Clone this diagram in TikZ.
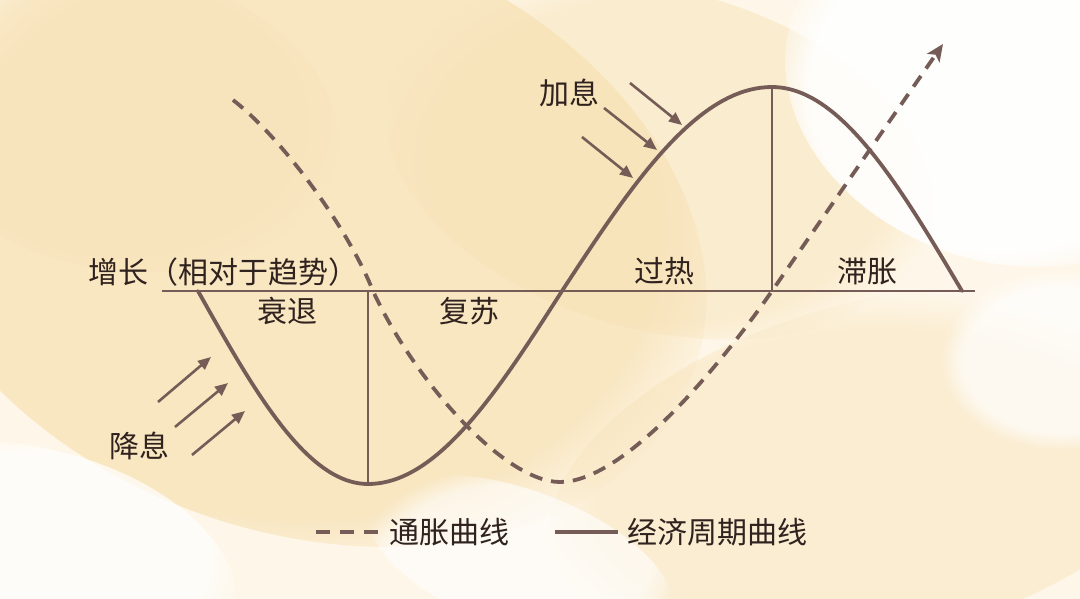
\documentclass[tikz,border=0pt]{standalone}
\usepackage{fontspec}
\setmainfont{Noto Sans CJK SC}
\usetikzlibrary{arrows.meta,fadings}
\definecolor{ln}{RGB}{118,92,86}
\definecolor{tx}{RGB}{48,34,30}
\definecolor{bgbase}{RGB}{254,247,233}
\definecolor{blob}{RGB}{248,226,182}
\begin{document}
\begin{tikzpicture}[x=1pt,y=-1pt,
  lbl/.style={text=tx,font=\fontsize{30}{32}\selectfont,inner sep=0pt},
  ecurve/.style={draw=ln,line width=3.8pt,line cap=round,line join=round},
  dcurve/.style={draw=ln,line width=3.8pt,dash pattern=on 13pt off 9pt},
  thin/.style={draw=ln,line width=2.6pt},
  arr/.style={draw=ln,line width=2.6pt,-{Triangle[length=13pt,width=11pt]}},
  softblob/.style={fill=blob,path fading=circle with fuzzy edge 20 percent},
  softwhite/.style={fill=white,path fading=circle with fuzzy edge 20 percent}]
\useasboundingbox (0,0) rectangle (1080,599);
% background
\begin{scope}
\clip (0,0) rectangle (1080,599);
\fill[bgbase] (0,0) rectangle (1080,599);
\fill[softblob,fill opacity=0.75] (300,230) ellipse [x radius=420,y radius=300,rotate=-20];
\fill[softblob,fill opacity=0.5] (660,160) ellipse [x radius=280,y radius=170,rotate=-15];
\fill[softblob,fill opacity=0.45] (880,470) ellipse [x radius=340,y radius=170,rotate=15];
\fill[softblob,fill opacity=0.45] (120,120) ellipse [x radius=220,y radius=150,rotate=-10];
\fill[softwhite,fill opacity=0.9] (1000,90) ellipse [x radius=220,y radius=170,rotate=-20];
\fill[softwhite,fill opacity=0.7] (1060,360) ellipse [x radius=120,y radius=90];
\fill[softwhite,fill opacity=0.7] (40,560) ellipse [x radius=200,y radius=110,rotate=-15];
\fill[softwhite,fill opacity=0.6] (520,560) ellipse [x radius=160,y radius=70,rotate=-20];
\end{scope}
% coordinates
\coordinate (ax0) at (162,291);
\coordinate (ax1) at (975,291);
\coordinate (trough) at (368,484);
\coordinate (troughAx) at (368,291);
\coordinate (peak) at (772,87);
\coordinate (peakAx) at (772,291);
% axis
\draw[thin,line width=2.8pt] (ax0) -- (ax1);
% vertical separators
\draw[thin] (troughAx) -- (trough);
\draw[thin] (peak) -- (peakAx);
% economic cycle curve (four quarter sine arcs, parameter in degrees)
\draw[ecurve]
  plot[domain=0:90,samples=40,variable=\t] ({198+\t/90*170},{291+193*sin(\t)})
  -- plot[domain=0:90,samples=40,variable=\t] ({368+\t/90*194},{291+193*cos(\t)})
  -- plot[domain=0:90,samples=40,variable=\t] ({562+\t/90*210},{291-204*sin(\t)})
  -- plot[domain=0:90,samples=40,variable=\t] ({772+\t/90*190},{291-204*cos(\t)});
% inflation curve
\coordinate (inf0) at (233,100);
\coordinate (infA) at (373,291);
\coordinate (infLow) at (560,482);
\coordinate (infB) at (772,291);
\coordinate (infEnd) at (943,44);
\draw[dcurve,-{Stealth[length=17pt,width=15pt,inset=4pt]}]
  (inf0) .. controls (282,138) and (348,228) .. (infA)
  .. controls (415,382) and (505,482) .. (infLow)
  .. controls (620,482) and (710,380) .. (infB)
  -- (infEnd);
% rate cut arrows
\coordinate (c1s) at (158,402); \coordinate (c1e) at (211,357);
\coordinate (c2s) at (175,427); \coordinate (c2e) at (228,383);
\coordinate (c3s) at (192,455); \coordinate (c3e) at (245,411);
\draw[arr] (c1s) -- (c1e);
\draw[arr] (c2s) -- (c2e);
\draw[arr] (c3s) -- (c3e);
% rate hike arrows
\coordinate (h1s) at (630,83);  \coordinate (h1e) at (682,125);
\coordinate (h2s) at (604,108); \coordinate (h2e) at (657,150);
\coordinate (h3s) at (582,137); \coordinate (h3e) at (633,178);
\draw[arr] (h1s) -- (h1e);
\draw[arr] (h2s) -- (h2e);
\draw[arr] (h3s) -- (h3e);
% labels
\node[lbl,anchor=west] (growth) at (88,272) {增长（相对于趋势）};
\node[lbl] (recess) at (287,311) {衰退};
\node[lbl] (recov) at (469,311) {复苏};
\node[lbl] (cut) at (139,446) {降息};
\node[lbl] (hike) at (569,93) {加息};
\node[lbl] (overheat) at (664,271) {过热};
\node[lbl] (stagfl) at (867,271) {滞胀};
% legend
\coordinate (lg1a) at (316,532); \coordinate (lg1b) at (379,532);
\coordinate (lg2a) at (555,532); \coordinate (lg2b) at (618,532);
\draw[draw=ln,line width=3.2pt,dash pattern=on 14pt off 10pt] (lg1a) -- (lg1b);
\draw[draw=ln,line width=3.2pt] (lg2a) -- (lg2b);
\node[lbl,anchor=west] (leginf) at (389,532) {通胀曲线};
\node[lbl,anchor=west] (legcyc) at (627,532) {经济周期曲线};
\end{tikzpicture}
\end{document}
